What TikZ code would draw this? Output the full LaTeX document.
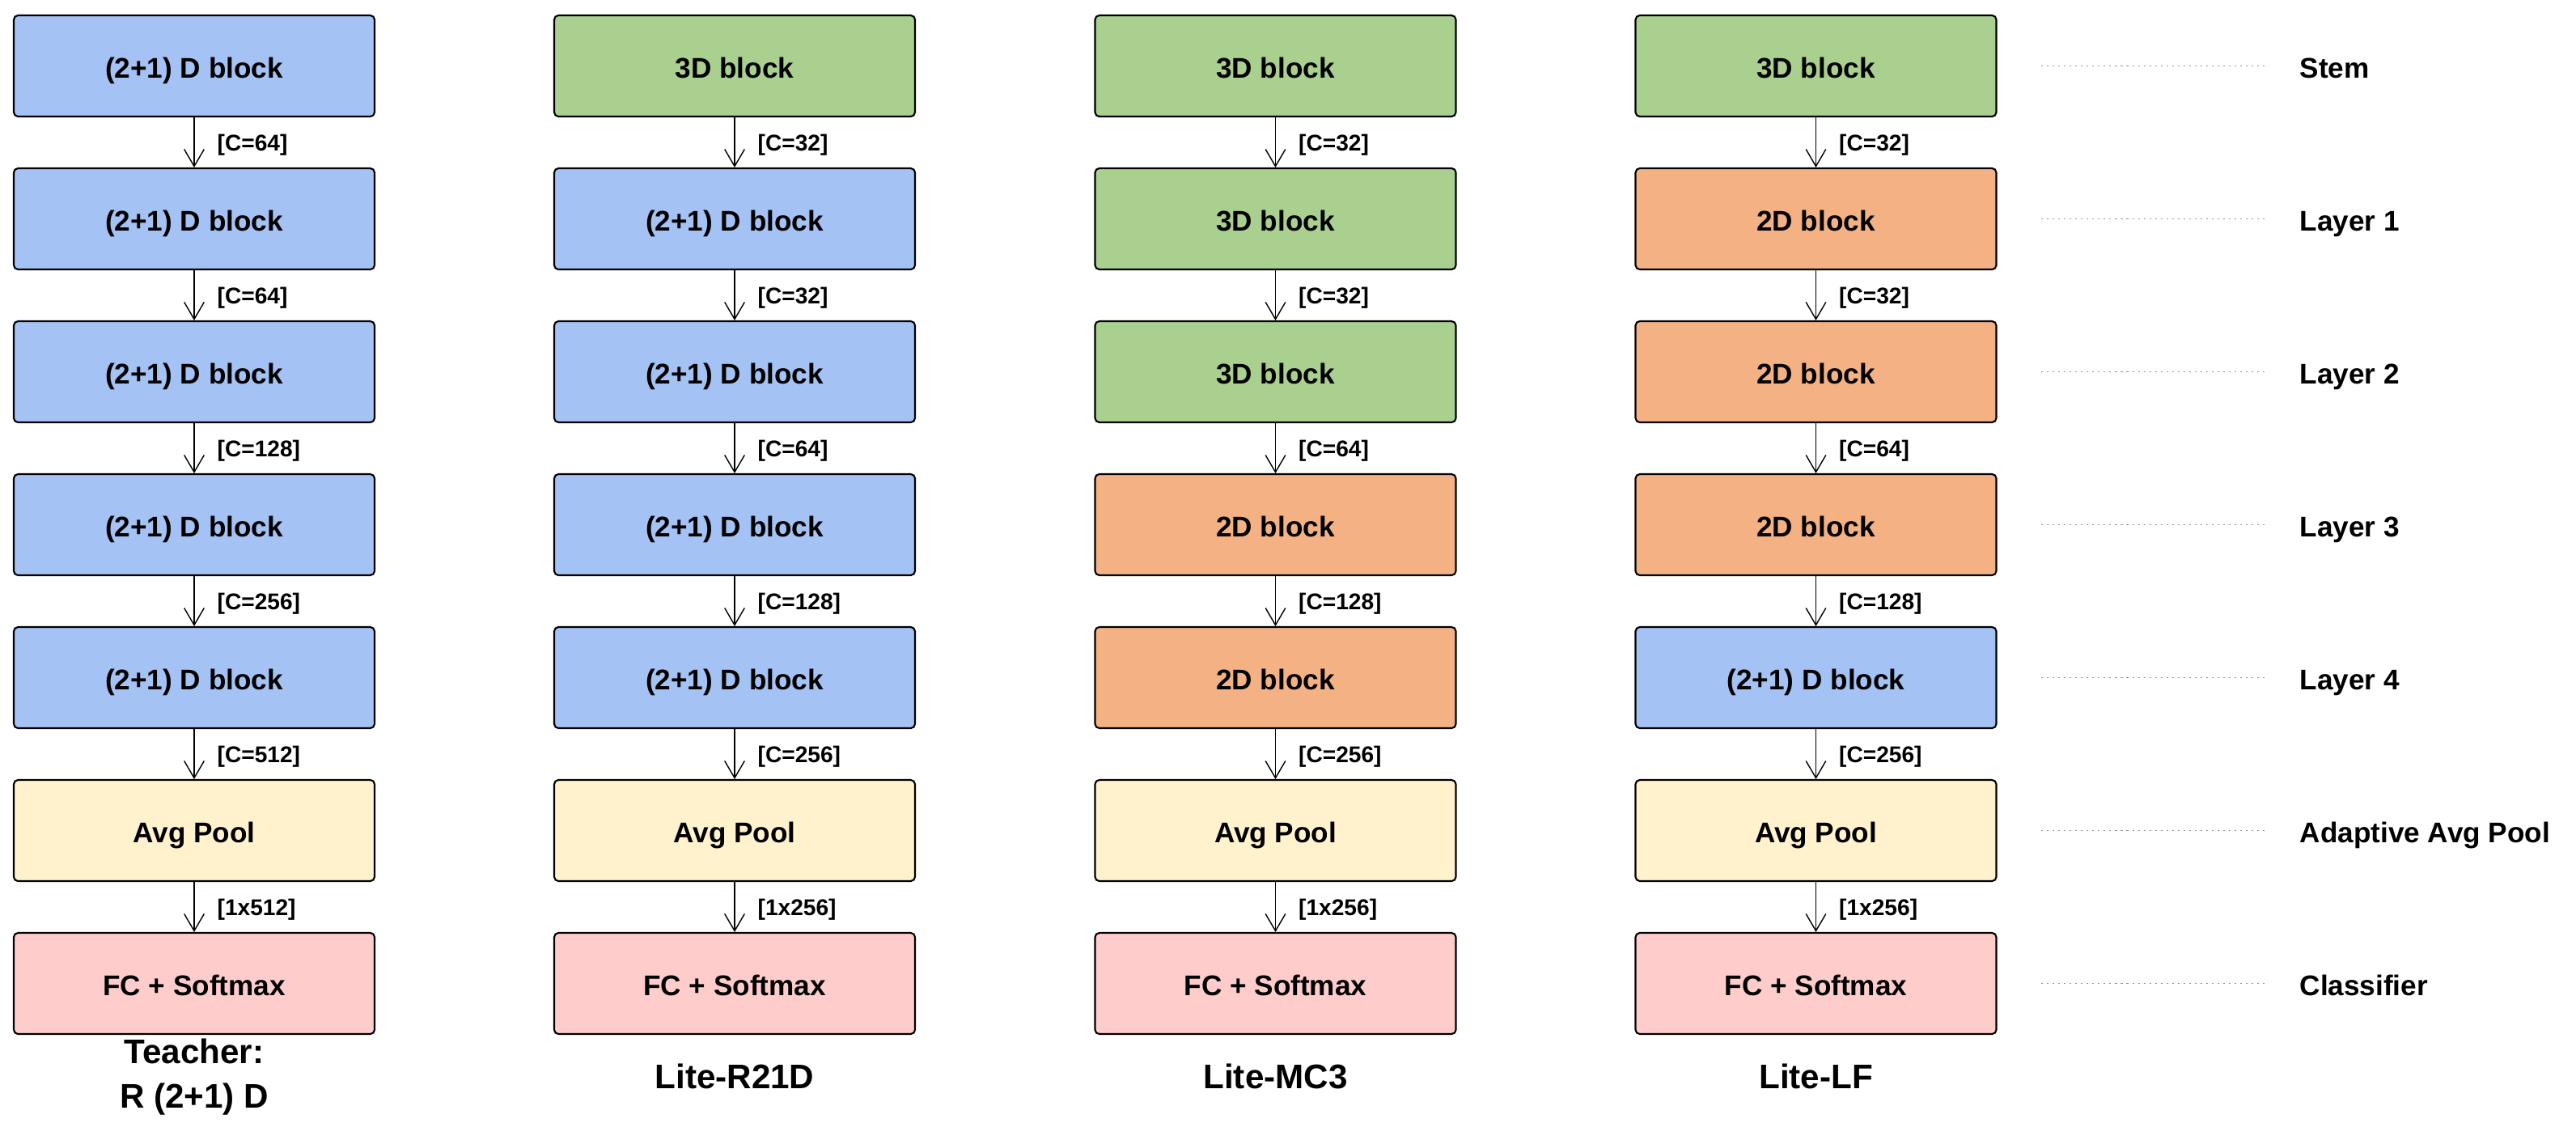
\documentclass[tikz,border=0pt]{standalone}
\usepackage{fontspec}
\setmainfont{Liberation Sans}
\usepackage{tikz}
\usetikzlibrary{arrows.meta, positioning}

\definecolor{c21d}{HTML}{A4C2F4}
\definecolor{c3d}{HTML}{A9D08E}
\definecolor{c2d}{HTML}{F4B183}
\definecolor{cpool}{HTML}{FFF2CC}
\definecolor{cfc}{HTML}{FFCCCC}

\begin{document}
\begin{tikzpicture}[
  blk/.style={draw, line width=0.6pt, rounded corners=1.5pt, minimum width=4.46cm, minimum height=1.25cm, inner sep=0pt, text height=8.5pt, text depth=0pt, font=\fontsize{10}{12}\selectfont\bfseries},
  b21/.style={blk, fill=c21d},
  b3/.style={blk, fill=c3d},
  b2/.style={blk, fill=c2d},
  bpool/.style={blk, fill=cpool},
  bfc/.style={blk, fill=cfc},
  arr/.style={-{Straight Barb[length=6pt, width=7pt]}, line width=0.4pt},
  chan/.style={pos=0.55, anchor=west, xshift=0.28cm, inner sep=0pt, font=\fontsize{8}{10}\selectfont\bfseries},
  guide/.style={dash pattern=on 0.6pt off 1.4pt, gray!85, line width=0.5pt},
  side/.style={anchor=west, inner sep=0pt, text height=8.5pt, text depth=0pt, font=\fontsize{10}{12}\selectfont\bfseries},
  ttl/.style={align=center, inner sep=0pt, font=\fontsize{12}{15.5}\selectfont\bfseries},
]
\useasboundingbox (0,0) rectangle (31.84,-13.87);

% ---- teacher
\node[b21] (t1) at (2.40,-0.815) {(2+1) D block};
\node[b21] (t2) at (2.40,-2.705) {(2+1) D block};
\node[b21] (t3) at (2.40,-4.595) {(2+1) D block};
\node[b21] (t4) at (2.40,-6.485) {(2+1) D block};
\node[b21] (t5) at (2.40,-8.375) {(2+1) D block};
\node[bpool] (t6) at (2.40,-10.265) {Avg Pool};
\node[bfc] (t7) at (2.40,-12.155) {FC + Softmax};
\draw[arr] (t1) -- (t2) node[chan] {[C=64]};
\draw[arr] (t2) -- (t3) node[chan] {[C=64]};
\draw[arr] (t3) -- (t4) node[chan] {[C=128]};
\draw[arr] (t4) -- (t5) node[chan] {[C=256]};
\draw[arr] (t5) -- (t6) node[chan] {[C=512]};
\draw[arr] (t6) -- (t7) node[chan] {[1x512]};
\node[ttl] (tt) at (2.40,-13.31) {Teacher:\\R (2+1) D};

% ---- lite-r21d
\node[b3] (r1) at (9.08,-0.815) {3D block};
\node[b21] (r2) at (9.08,-2.705) {(2+1) D block};
\node[b21] (r3) at (9.08,-4.595) {(2+1) D block};
\node[b21] (r4) at (9.08,-6.485) {(2+1) D block};
\node[b21] (r5) at (9.08,-8.375) {(2+1) D block};
\node[bpool] (r6) at (9.08,-10.265) {Avg Pool};
\node[bfc] (r7) at (9.08,-12.155) {FC + Softmax};
\draw[arr] (r1) -- (r2) node[chan] {[C=32]};
\draw[arr] (r2) -- (r3) node[chan] {[C=32]};
\draw[arr] (r3) -- (r4) node[chan] {[C=64]};
\draw[arr] (r4) -- (r5) node[chan] {[C=128]};
\draw[arr] (r5) -- (r6) node[chan] {[C=256]};
\draw[arr] (r6) -- (r7) node[chan] {[1x256]};
\node[ttl] (rt) at (9.08,-13.30) {Lite-R21D};

% ---- lite-mc3
\node[b3] (m1) at (15.765,-0.815) {3D block};
\node[b3] (m2) at (15.765,-2.705) {3D block};
\node[b3] (m3) at (15.765,-4.595) {3D block};
\node[b2] (m4) at (15.765,-6.485) {2D block};
\node[b2] (m5) at (15.765,-8.375) {2D block};
\node[bpool] (m6) at (15.765,-10.265) {Avg Pool};
\node[bfc] (m7) at (15.765,-12.155) {FC + Softmax};
\draw[arr] (m1) -- (m2) node[chan] {[C=32]};
\draw[arr] (m2) -- (m3) node[chan] {[C=32]};
\draw[arr] (m3) -- (m4) node[chan] {[C=64]};
\draw[arr] (m4) -- (m5) node[chan] {[C=128]};
\draw[arr] (m5) -- (m6) node[chan] {[C=256]};
\draw[arr] (m6) -- (m7) node[chan] {[1x256]};
\node[ttl] (mt) at (15.765,-13.30) {Lite-MC3};

% ---- lite-lf
\node[b3] (f1) at (22.445,-0.815) {3D block};
\node[b2] (f2) at (22.445,-2.705) {2D block};
\node[b2] (f3) at (22.445,-4.595) {2D block};
\node[b2] (f4) at (22.445,-6.485) {2D block};
\node[b21] (f5) at (22.445,-8.375) {(2+1) D block};
\node[bpool] (f6) at (22.445,-10.265) {Avg Pool};
\node[bfc] (f7) at (22.445,-12.155) {FC + Softmax};
\draw[arr] (f1) -- (f2) node[chan] {[C=32]};
\draw[arr] (f2) -- (f3) node[chan] {[C=32]};
\draw[arr] (f3) -- (f4) node[chan] {[C=64]};
\draw[arr] (f4) -- (f5) node[chan] {[C=128]};
\draw[arr] (f5) -- (f6) node[chan] {[C=256]};
\draw[arr] (f6) -- (f7) node[chan] {[1x256]};
\node[ttl] (ft) at (22.445,-13.30) {Lite-LF};

% ---- stage names
\node[side] (stem) at (28.42,-0.815) {Stem};
\node[side] (lay1) at (28.42,-2.705) {Layer 1};
\node[side] (lay2) at (28.42,-4.595) {Layer 2};
\node[side] (lay3) at (28.42,-6.485) {Layer 3};
\node[side] (lay4) at (28.42,-8.375) {Layer 4};
\node[side] (apool) at (28.42,-10.265) {Adaptive Avg Pool};
\node[side] (clf) at (28.42,-12.155) {Classifier};
\coordinate (s1) at (25.23,-0.815);
\coordinate (s2) at (25.23,-2.705);
\coordinate (s3) at (25.23,-4.595);
\coordinate (s4) at (25.23,-6.485);
\coordinate (s5) at (25.23,-8.375);
\coordinate (s6) at (25.23,-10.265);
\coordinate (s7) at (25.23,-12.155);
\draw[guide, shorten >=0.43cm] (s1) -- (stem.west);
\draw[guide, shorten >=0.43cm] (s2) -- (lay1.west);
\draw[guide, shorten >=0.43cm] (s3) -- (lay2.west);
\draw[guide, shorten >=0.43cm] (s4) -- (lay3.west);
\draw[guide, shorten >=0.43cm] (s5) -- (lay4.west);
\draw[guide, shorten >=0.43cm] (s6) -- (apool.west);
\draw[guide, shorten >=0.43cm] (s7) -- (clf.west);
\end{tikzpicture}
\end{document}
